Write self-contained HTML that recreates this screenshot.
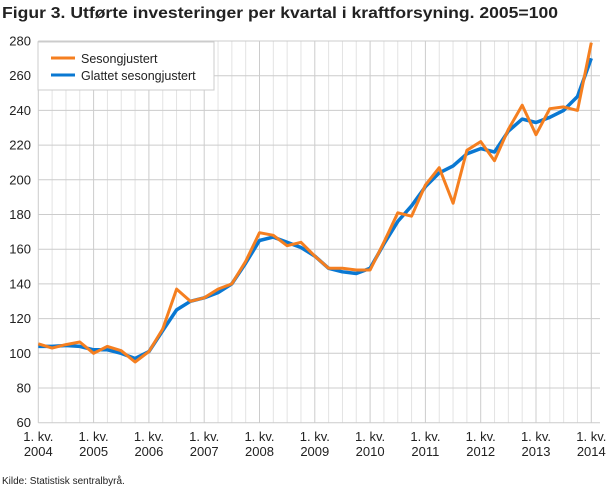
<!DOCTYPE html>
<html><head><meta charset="utf-8"><style>
body{margin:0;background:#fff;font-family:"Liberation Sans",sans-serif;}
</style></head><body>
<svg width="610" height="488" xmlns="http://www.w3.org/2000/svg">
<text x="2" y="18" font-size="16" font-weight="bold" fill="#222" textLength="556" lengthAdjust="spacingAndGlyphs">Figur 3. Utførte investeringer per kvartal i kraftforsyning. 2005=100</text>
<g id="grid"></g>
<g id="yticks"></g>
<g id="xticks"></g>
<g id="series"></g>
<g>
<rect x="38" y="42" width="176" height="48" fill="#fff" stroke="#ccc"/>
<line x1="51" y1="58" x2="75" y2="58" stroke="#f57f20" stroke-width="3"/>
<text x="81" y="63" font-size="12.5" fill="#222">Sesongjustert</text>
<line x1="51" y1="75" x2="75" y2="75" stroke="#0a78d2" stroke-width="3"/>
<text x="81" y="80" font-size="12.5" fill="#222">Glattet sesongjustert</text>
</g>
<text x="2" y="484" font-size="10" fill="#222">Kilde: Statistisk sentralbyrå.</text>
</svg>
<script>
const years=[2004,2005,2006,2007,2008,2009,2010,2011,2012,2013,2014];
const yTicks=[60,80,100,120,140,160,180,200,220,240,260,280];
const seasonal=[105.5,103,105,106.5,100,104,101.5,95,101,114,137,130,132,137,140,153,169.5,168,162,164,156,149,149,148,148,164,181,179,197,207,186.5,217,222,211,229,243,226,241,242,240,279];
const smoothed=[104,104,104.5,104,102,102,100,97,101,113,125,130,132,135,140,152,165,167,164,161,156,149,147,146,149,163,176,185,196,204,208,215,218,216,228,235,233,236,240,248,270];
const NS="http://www.w3.org/2000/svg";
const x0=38.3,yearW=55.3,qW=yearW/4;
const xs=i=>x0+i*qW;
const ys=v=>353.3-(v-100)*34.7/20;
function mk(tag,attrs,parent){const e=document.createElementNS(NS,tag);for(const k in attrs)e.setAttribute(k,attrs[k]);parent.appendChild(e);return e;}
const grid=document.getElementById('grid'),yt=document.getElementById('yticks'),xt=document.getElementById('xticks'),ser=document.getElementById('series');
const nQ=(years.length-1)*4;
for(let i=0;i<=nQ;i++){
  const l=mk('line',{x1:xs(i),x2:xs(i),y1:ys(280),y2:ys(60),stroke:i%4==0?'#ccc':'#e3e3e3','stroke-width':1},grid);
  
  
}
yTicks.forEach(v=>{
  const l=mk('line',{x1:x0,x2:600,y1:ys(v),y2:ys(v),stroke:'#ccc','stroke-width':1},grid);
  
  
  const t=mk('text',{x:31,y:ys(v)+4.5,'text-anchor':'end','font-size':13,fill:'#222'},yt);
  t.textContent=v;
  
  
});
years.forEach((y,i)=>{
  const t=mk('text',{x:xs(i*4),y:441,'text-anchor':'middle','font-size':13,fill:'#222'},xt);
  t.textContent='1. kv.';
  
  
  const t2=mk('text',{x:xs(i*4),y:456,'text-anchor':'middle','font-size':13,fill:'#222'},xt);
  t2.textContent=y;
  
  
});
const pl=d=>d.map((v,i)=>xs(i).toFixed(1)+','+ys(v).toFixed(1)).join(' ');
const b=mk('polyline',{points:pl(smoothed),fill:'none',stroke:'#0a78d2','stroke-width':3.5,'stroke-linejoin':'round'},ser);


const o=mk('polyline',{points:pl(seasonal),fill:'none',stroke:'#f57f20','stroke-width':3,'stroke-linejoin':'round'},ser);


</script>
</body></html>
